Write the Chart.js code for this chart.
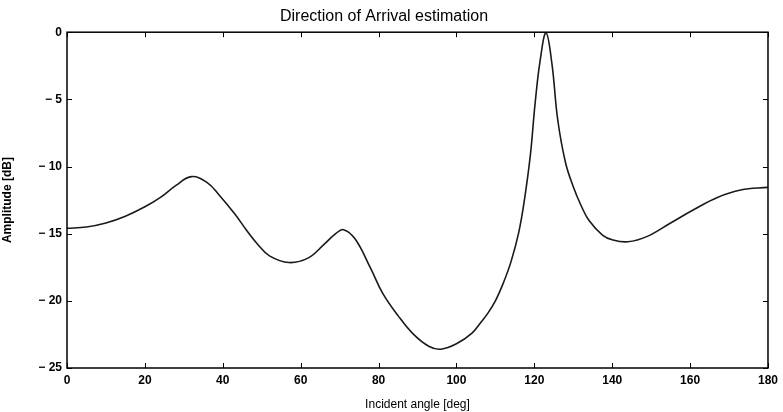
<!DOCTYPE html>
<html>
<head>
<meta charset="utf-8">
<script src="https://cdn.jsdelivr.net/npm/chart.js@4/dist/chart.umd.min.js"></script>
<style>
  html,body{margin:0;padding:0;background:#fff;}
  #wrap{width:783px;height:412px;}
</style>
</head>
<body>
<div id="wrap"><canvas id="doaChart"></canvas></div>
<script>
// values
var angles = [0,5,10,15,20,24,28,32,36,39,43,46,49,52,57,62,66,69,71,74,78,81,85,89,93,96,100,104,106,108,110,112,114,116,117.5,119,120.2,121.5,123,124.5,126,128,130,132,134,137.5,140,144,149,155,161,167,173,180];
var amplitude = [-14.6,-14.5,-14.2,-13.7,-13.0,-12.3,-11.4,-10.75,-11.2,-12.1,-13.5,-14.7,-15.8,-16.65,-17.15,-16.8,-15.8,-15.0,-14.7,-15.4,-17.6,-19.4,-21.1,-22.5,-23.4,-23.6,-23.2,-22.4,-21.7,-20.95,-20.0,-18.7,-17.1,-14.9,-12.4,-9.1,-5.3,-2.1,-0.05,-2.3,-6.5,-9.7,-11.5,-12.9,-14.0,-15.1,-15.45,-15.6,-15.2,-14.2,-13.2,-12.3,-11.75,-11.55];
var xTicks = [0,20,40,60,80,100,120,140,160,180];
var yTicks = [0,-5,-10,-15,-20,-25];

var points = angles.map(function(a,i){ return {x:a, y:amplitude[i]}; });

// matlab style box with inward ticks
var boxTicks = {
  id:'boxTicks',
  afterDraw:function(chart){
    var ctx = chart.ctx, a = chart.chartArea;
    var xs = chart.scales.x, ys = chart.scales.y, len = 5;
    ctx.save();
    ctx.strokeStyle = '#000';
    ctx.lineWidth = 1;
    ctx.beginPath();
    xTicks.forEach(function(t){
      var px = Math.round(xs.getPixelForValue(t)) + 0.5;
      ctx.moveTo(px, a.bottom); ctx.lineTo(px, a.bottom - len);
      ctx.moveTo(px, a.top); ctx.lineTo(px, a.top + len);
    });
    yTicks.forEach(function(t){
      var py = Math.round(ys.getPixelForValue(t)) + 0.5;
      ctx.moveTo(a.left, py); ctx.lineTo(a.left + len, py);
      ctx.moveTo(a.right, py); ctx.lineTo(a.right - len, py);
    });
    ctx.stroke();
    ctx.lineWidth = 1.5;
    ctx.strokeRect(a.left, a.top, a.right - a.left, a.bottom - a.top);
    ctx.restore();
  }
};

var font = 'Liberation Sans';

new Chart('doaChart', {
  type:'line',
  data:{
    datasets:[{
      data:points,
      borderColor:'#1a1a1a',
      borderWidth:1.6,
      pointRadius:0,
      fill:false,
      tension:0.4
    }]
  },
  options:{
    responsive:true,
    maintainAspectRatio:false,
    animation:false,
    layout:{padding:{left:0,right:15,top:0,bottom:0}},
    plugins:{
      legend:{display:false},
      tooltip:{enabled:false},
      title:{
        display:true,
        text:'Direction of Arrival estimation',
        color:'#000',
        font:{family:font,size:16,weight:'normal'},
        padding:{top:7,bottom:6}
      }
    },
    scales:{
      x:{
        type:'linear',
        min:0, max:180,
        afterBuildTicks:function(s){ s.ticks = xTicks.map(function(v){return {value:v};}); },
        afterFit:function(s){ s.height = 44; },
        grid:{display:false, drawTicks:false},
        border:{display:false},
        ticks:{color:'#000', font:{family:font,size:12,weight:'bold'}, padding:5, maxRotation:0},
        title:{display:true, text:'Incident angle [deg]', color:'#000', font:{family:font,size:12}, padding:{top:2,bottom:0}}
      },
      y:{
        min:-25, max:0,
        afterBuildTicks:function(s){ s.ticks = yTicks.map(function(v){return {value:v};}); },
        afterFit:function(s){ s.width = 67; },
        grid:{display:false, drawTicks:false},
        border:{display:false},
        ticks:{
          color:'#000', font:{family:font,size:12,weight:'bold'}, padding:5,
          callback:function(v){ return v < 0 ? '\u2212 ' + Math.abs(v) : String(v); }
        },
        title:{display:true, text:'Amplitude [dB]', color:'#000', font:{family:font,size:12,weight:'bold'}, padding:{top:0,bottom:4}}
      }
    }
  },
  plugins:[boxTicks]
});
</script>
</body>
</html>
